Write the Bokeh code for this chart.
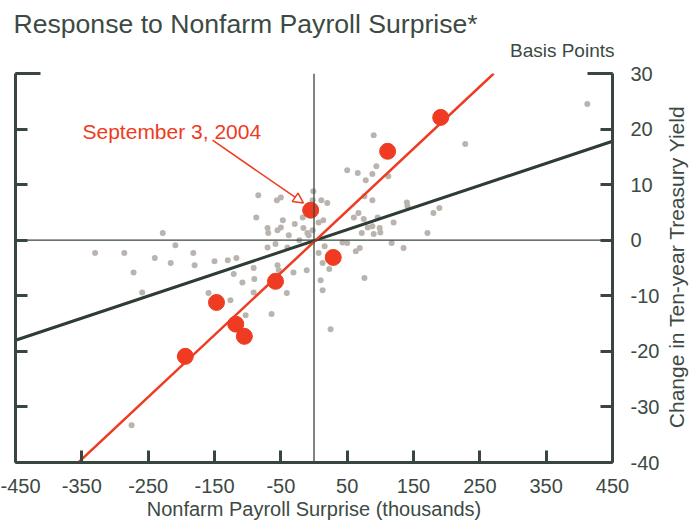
from bokeh.plotting import figure
from bokeh.models import (LinearAxis, FixedTicker, Span, Label, Arrow, NormalHead, Range1d)
from bokeh.layouts import column, row
from bokeh.embed import file_html
from bokeh.resources import INLINE

# ---------------- data ----------------
x_ticks = [-450, -350, -250, -150, -50, 50, 150, 250, 350, 450]
y_ticks = [-40, -30, -20, -10, 0, 10, 20, 30]

# all payroll-release days (gray)
gray_x = [-330, -286, -272, -259, -275, -240, -228, -216, -209, -182, -180, -159, -150, -130,
          -117, -121, -108, -91, -90, -91, -126, -103, -64, -55, -53, -31, -11, -41, -70, -40,
          -58, -84, -56, -50, -87, -1, -2, -70, -69, -55, -50, -47, -38, -29, -16, -8, -2, -17,
          -22, -10, 7, 14, 11, 20, 16, 13, 23, 10, 13, 25, 76, 63, 69, 43, 50, 117, 135, 72, 90,
          100, 171, 90, 228, 50, 66, 78, 88, 94, 112, 88, 76, 140, 141, 180, 189, 67, 60, 75, 96,
          120, 88, 99, 81, 412, 7]
gray_y = [-2.3, -2.3, -5.8, -9.4, -33.3, -3.2, 1.3, -4.1, -0.9, -2.3, -4.5, -9.5, -3.8, -3.6,
          -3.2, -6.1, -7.6, -5.0, -7.0, -9.4, -10.8, -13.5, -13.3, -4.5, -5.4, -5.8, -5.4, -9.5,
          -1.3, -1.3, -0.7, 8.1, 7.2, 7.7, 4.1, 8.8, 7.2, 2.2, 1.3, 1.8, 2.3, 3.6, 0.9, 2.9, 2.2,
          0.9, 1.8, 4.1, 0.0, 1.3, 3.2, 3.6, 7.2, 6.7, -1.1, -4.1, -5.2, -7.2, -9.0, -16.0, -6.8,
          -2.0, -1.4, -0.4, -0.5, -0.5, -1.4, 1.3, 1.1, 1.4, 1.3, 18.9, 17.3, 12.6, 12.1, 10.8,
          11.9, 13.3, 11.5, 7.2, 7.9, 6.8, 6.1, 4.9, 5.8, 4.9, 4.1, 3.8, 4.1, 3.2, 2.5, 2.2, 2.3,
          24.5, -2.3]

# recent releases (red)
red_x = [-5, 191, 111, 29, -58, -147, -118, -105, -194]
red_y = [5.4, 22.1, 16.0, -3.1, -7.4, -11.2, -15.1, -17.3, -20.9]

# fitted lines
red_fit_x = [-358, 271]
red_fit_y = [-40.3, 30.0]
all_fit_x = [-450, 450]
all_fit_y = [-18.0, 17.8]

# ---------------- style ----------------
FONT = "Liberation Sans"
AX = "#39463f"
TXT = "#3c4a43"
RED = "#ee3b22"
GRAY = "#bab4af"
DARK = "#2d3c34"


def blank(width, height):
    f = figure(width=width, height=height, x_range=Range1d(0, width),
               y_range=Range1d(0, height), output_backend="svg", toolbar_location=None,
               title=None, x_axis_location=None, y_axis_location=None, min_border=0,
               border_fill_color="white", background_fill_color="white")
    f.grid.visible = False
    f.outline_line_color = None
    return f


# ---- header strip (title + unit) ----
top = blank(698, 60)
top.add_layout(Label(x=13, y=36.3, text="Response to Nonfarm Payroll Surprise*", text_font=FONT,
                     text_font_size="26.6px", text_color=TXT, text_align="left",
                     text_baseline="alphabetic"))
top.add_layout(Label(x=614, y=10, text="Basis Points", text_font=FONT, text_font_size="19px",
                     text_color=TXT, text_align="right", text_baseline="alphabetic"))

# ---- main plot ----
p = figure(width=664, height=465, x_range=Range1d(-450, 450), y_range=Range1d(-40, 30),
           output_backend="svg", toolbar_location=None, title=None,
           min_border_left=15, min_border_right=52, min_border_top=13, min_border_bottom=63,
           background_fill_color="white", border_fill_color="white")
p.grid.visible = False
p.outline_line_color = None


def style_axis(ax):
    ax.axis_line_color = AX
    ax.axis_line_width = 3
    ax.major_tick_line_color = AX
    ax.major_tick_line_width = 3
    ax.major_tick_in = 12
    ax.major_tick_out = 0
    ax.minor_tick_line_color = None
    ax.major_label_text_font = FONT
    ax.major_label_text_color = TXT
    ax.major_label_text_font_size = "20px"
    ax.axis_label_text_font = FONT
    ax.axis_label_text_color = TXT
    ax.axis_label_text_font_size = "20px"
    ax.axis_label_text_font_style = "normal"


# bottom axis
xa = p.xaxis[0]
xa.ticker = FixedTicker(ticks=x_ticks)
style_axis(xa)
xa.major_label_overrides = {t: str(t) for t in x_ticks}
xa.major_label_standoff = 16
xa.axis_label = "Nonfarm Payroll Surprise (thousands)"
xa.axis_label_standoff = 2

# left axis (ticks only)
ya = p.yaxis[0]
ya.ticker = FixedTicker(ticks=y_ticks)
style_axis(ya)
ya.major_label_overrides = {t: "" for t in y_ticks}
ya.major_label_standoff = 0

# right axis (ticks + labels)
yr = LinearAxis(ticker=FixedTicker(ticks=y_ticks))
style_axis(yr)
yr.major_label_overrides = {t: str(t) for t in y_ticks}
yr.major_label_standoff = 18
p.add_layout(yr, "right")

# top corner stubs
for b in [(-450, -412), (412, 450)]:
    ta = LinearAxis(ticker=FixedTicker(ticks=[]), bounds=b)
    style_axis(ta)
    ta.major_tick_in = 0
    ta.major_label_standoff = 0
    p.add_layout(ta, "above")

# zero lines
p.add_layout(Span(location=0, dimension="width", line_color=AX, line_width=1.3))
p.add_layout(Span(location=0, dimension="height", line_color=AX, line_width=1.3))

# data
p.scatter(gray_x, gray_y, size=6, fill_color=GRAY, line_color=None)
p.line(all_fit_x, all_fit_y, line_color=DARK, line_width=3)
p.line(red_fit_x, red_fit_y, line_color=RED, line_width=2.5)
p.scatter(red_x, red_y, size=16, fill_color=RED, line_color=RED, line_width=1)

# annotation
p.add_layout(Arrow(end=NormalHead(size=10, fill_color="white", line_color=RED, line_width=1.5),
                   x_start=-153, y_start=18.0, x_end=-16, y_end=6.7,
                   line_color=RED, line_width=1.5))
p.add_layout(Label(x=-349, y=19.5, text="September 3, 2004", text_font=FONT,
                   text_font_size="21px", text_color=RED, text_align="left",
                   text_baseline="alphabetic"))

# ---- right strip: vertical axis title ----
side = blank(34, 465)
side.add_layout(Label(x=12, y=234, text="Change in Ten-year Treasury Yield", text_font=FONT,
                      text_font_size="21px", text_color=TXT, text_align="center",
                      text_baseline="middle", angle=90, angle_units="deg"))

layout = column(top, row(p, side, spacing=0), spacing=0)

open("out.html", "w").write(file_html(layout, INLINE))
